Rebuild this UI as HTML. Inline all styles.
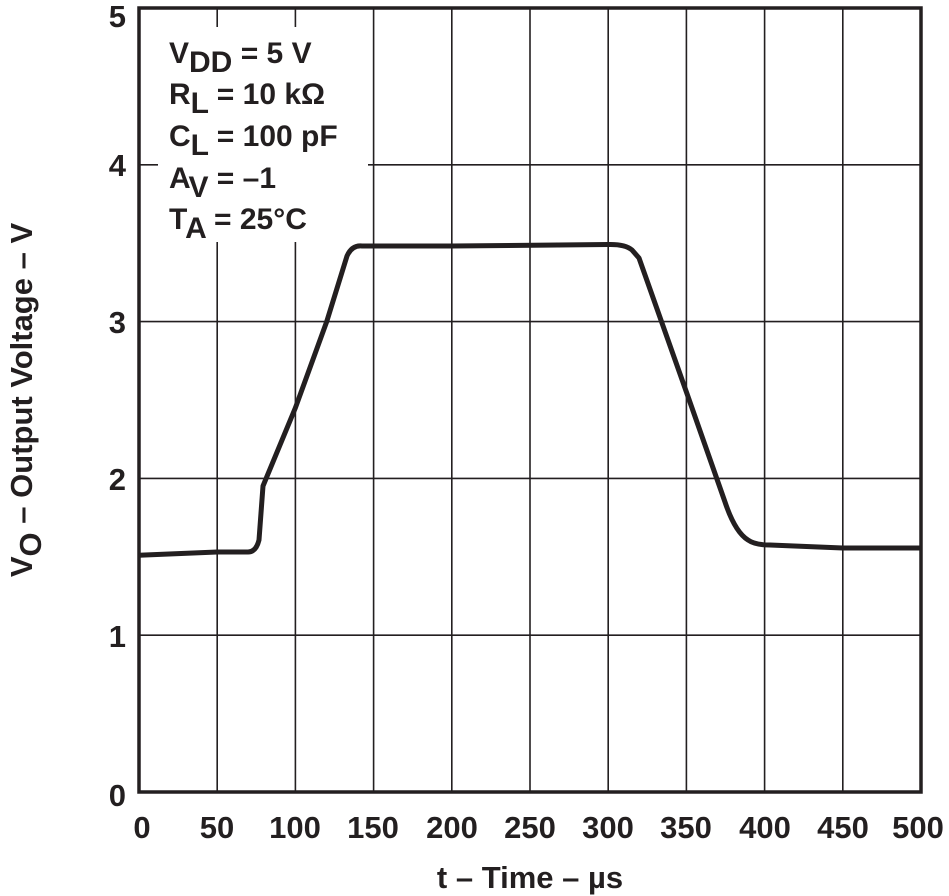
<!DOCTYPE html><html><head><style>body{margin:0;background:#fff}svg{display:block}text{font-family:"Liberation Sans",sans-serif;font-weight:bold;fill:#231f20}</style></head><body>
<svg width="949" height="896" viewBox="0 0 949 896">
<g stroke="#231f20" stroke-width="1.6">
<line x1="217.2" y1="8" x2="217.2" y2="792"/><line x1="295.4" y1="8" x2="295.4" y2="792"/><line x1="373.6" y1="8" x2="373.6" y2="792"/><line x1="451.8" y1="8" x2="451.8" y2="792"/><line x1="530" y1="8" x2="530" y2="792"/><line x1="608.2" y1="8" x2="608.2" y2="792"/><line x1="686.4" y1="8" x2="686.4" y2="792"/><line x1="764.6" y1="8" x2="764.6" y2="792"/><line x1="842.8" y1="8" x2="842.8" y2="792"/>
<line x1="139" y1="635.2" x2="921" y2="635.2"/><line x1="139" y1="478.4" x2="921" y2="478.4"/><line x1="139" y1="321.6" x2="921" y2="321.6"/><line x1="139" y1="164.8" x2="921" y2="164.8"/>
</g>
<rect x="158" y="27" width="210" height="215" fill="#fff"/>
<rect x="139" y="8" width="782" height="784" fill="none" stroke="#231f20" stroke-width="3.5"/>
<path d="M139,555.2 L217.2,552 L248,552 Q256,552 259,540 L263,486 L295.4,407.8 L326.7,321.6 L347,256 Q352,245 362,246 L451.8,246 L608,244.5 Q625,244 632,250 L639,258 L686.4,392 L725,502 Q735,532 748,540 Q755,545 770,545 L842.8,548 L921,548" fill="none" stroke="#231f20" stroke-width="5" stroke-linejoin="round"/>
<g font-size="31" text-anchor="end">
<text x="126" y="27">5</text><text x="126" y="176">4</text><text x="126" y="333">3</text><text x="126" y="490">2</text><text x="126" y="647">1</text><text x="126" y="806">0</text>
</g>
<g font-size="31" text-anchor="middle">
<text x="142" y="838">0</text><text x="217" y="838">50</text><text x="295" y="838">100</text><text x="373" y="838">150</text><text x="452" y="838">200</text><text x="530" y="838">250</text><text x="608" y="838">300</text><text x="686" y="838">350</text><text x="765" y="838">400</text><text x="843" y="838">450</text><text x="918" y="838">500</text>
<text x="530" y="888">t – Time – µs</text>
</g>
<text transform="translate(32,400) rotate(-90)" font-size="31" text-anchor="middle">V<tspan dy="9">O</tspan><tspan dy="-9"> – Output Voltage – V</tspan></text>
<g font-size="30">
<text x="169" y="63">V<tspan dy="9">DD</tspan><tspan dy="-9"> = 5 V</tspan></text>
<text x="169" y="104">R<tspan dy="9">L</tspan><tspan dy="-9"> = 10 kΩ</tspan></text>
<text x="169" y="146">C<tspan dy="9">L</tspan><tspan dy="-9"> = 100 pF</tspan></text>
<text x="169" y="188">A<tspan dy="9">V</tspan><tspan dy="-9"> = –1</tspan></text>
<text x="169" y="229">T<tspan dy="9">A</tspan><tspan dy="-9"> = 25°C</tspan></text>
</g>
</svg></body></html>
